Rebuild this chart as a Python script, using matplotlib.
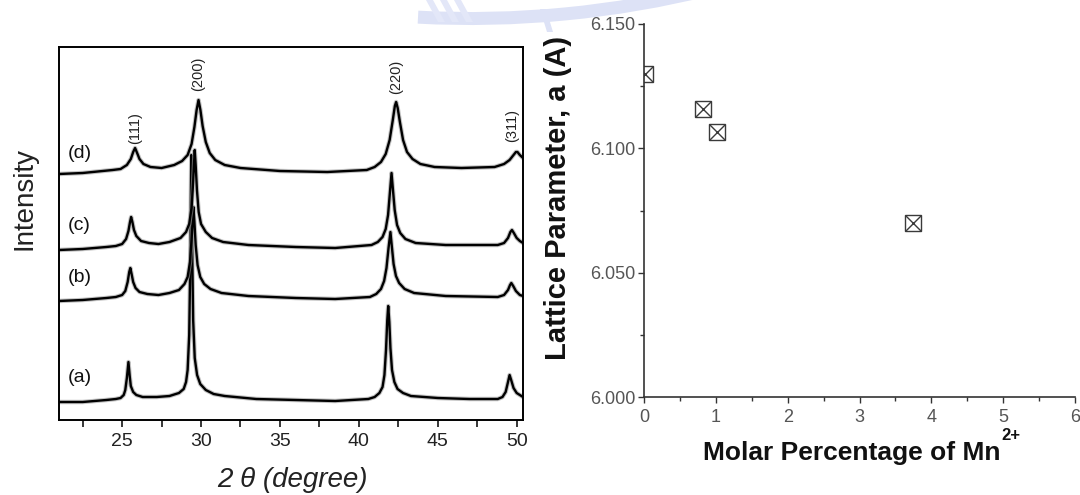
import matplotlib
matplotlib.use("Agg")
import matplotlib.pyplot as plt
from matplotlib.ticker import MultipleLocator
from matplotlib.patches import Wedge, Polygon
from matplotlib.transforms import IdentityTransform

plt.rcParams['font.family'] = ['Liberation Sans', 'DejaVu Sans']

# XRD patterns (2theta in degree, stacked intensity in a.u.)
tt_a = [21.0, 22.5, 24.0, 24.6, 24.9, 25.1, 25.2, 25.3, 25.4, 25.48, 25.55, 25.7, 25.9, 26.3,
        27.2, 28.0, 28.6, 28.9, 29.05, 29.15, 29.25, 29.32, 29.38, 29.44, 29.5, 29.6, 29.75,
        29.95, 30.3, 30.8, 31.5, 33.5, 36.0, 38.5, 40.6, 41.0, 41.3, 41.5, 41.62, 41.72, 41.8,
        41.86, 41.93, 42.0, 42.1, 42.25, 42.45, 42.8, 43.3, 45.0, 47.0, 48.8, 49.1, 49.3, 49.45,
        49.55, 49.65, 49.8, 50.0, 50.4]
int_a = [18, 18, 20, 21, 22, 25, 30, 42, 58, 44, 34, 28, 25, 23,
         23, 24, 27, 31, 38, 50, 85, 160, 265, 170, 100, 62, 45,
         36, 30, 26, 24, 21, 20, 19, 21, 23, 27, 33, 45, 70, 100,
         114, 98, 72, 50, 38, 31, 27, 24, 22, 21, 21, 23, 28, 38,
         45, 40, 32, 27, 23]

tt_b = [21.0, 22.5, 24.0, 24.6, 25.0, 25.2, 25.35, 25.45, 25.52, 25.6, 25.7, 25.85, 26.1, 26.6,
        27.3, 28.0, 28.6, 28.95, 29.15, 29.3, 29.4, 29.47, 29.52, 29.58, 29.66, 29.78, 29.95,
        30.2, 30.6, 31.3, 33.0, 36.0, 38.5, 40.7, 41.1, 41.4, 41.6, 41.75, 41.88, 42.0, 42.08,
        42.2, 42.35, 42.55, 42.9, 43.5, 45.5, 48.8, 49.2, 49.45, 49.58, 49.66, 49.78, 49.95,
        50.2, 50.4]
int_b = [119, 120, 122, 123, 125, 129, 138, 148, 152, 146, 138, 132, 128, 126,
         125, 127, 130, 136, 143, 158, 180, 200, 213, 198, 175, 155, 143,
         136, 131, 127, 124, 122, 121, 123, 126, 131, 139, 152, 172, 188, 175,
         156, 144, 137, 131, 127, 124, 123, 125, 130, 135, 137, 134, 129,
         125, 124]

tt_c = [21.0, 22.5, 24.0, 24.6, 25.0, 25.25, 25.4, 25.5, 25.57, 25.65, 25.75, 25.9, 26.2, 26.7,
        27.3, 28.0, 28.7, 29.05, 29.25, 29.4, 29.5, 29.56, 29.6, 29.66, 29.74, 29.85, 30.0,
        30.3, 30.7, 31.4, 33.0, 36.0, 38.5, 40.8, 41.2, 41.5, 41.7, 41.85, 41.97, 42.07, 42.15,
        42.27, 42.42, 42.62, 42.95, 43.6, 45.5, 48.8, 49.2, 49.45, 49.6, 49.7, 49.82, 50.0,
        50.2, 50.4]
int_c = [170, 171, 173, 174, 176, 181, 189, 198, 203, 198, 190, 184, 179, 177,
         176, 178, 182, 188, 196, 212, 238, 258, 270, 255, 230, 208, 196,
         188, 182, 178, 175, 173, 172, 175, 178, 183, 191, 205, 228, 247, 232,
         210, 195, 187, 181, 177, 175, 175, 177, 182, 188, 190, 187, 182,
         179, 177]

tt_d = [21.0, 22.5, 24.4, 24.9, 25.3, 25.55, 25.7, 25.82, 25.95, 26.1, 26.35, 26.8, 27.5, 28.3,
        28.8, 29.15, 29.4, 29.58, 29.72, 29.84, 29.96, 30.1, 30.3, 30.55, 30.9, 31.5, 32.5,
        35.0, 38.0, 40.5, 41.0, 41.4, 41.7, 41.95, 42.15, 42.28, 42.36, 42.46, 42.6, 42.8,
        43.05, 43.4, 43.9, 44.8, 46.5, 48.6, 49.2, 49.55, 49.8, 49.95, 50.05, 50.2, 50.4]
int_d = [246, 247, 250, 251, 255, 261, 268, 272, 267, 261, 256, 253, 252, 255,
         259, 265, 276, 293, 310, 320, 310, 294, 278, 267, 260, 255, 252,
         249, 248, 250, 253, 258, 266, 280, 300, 314, 318, 312, 298, 280,
         268, 261, 256, 253, 252, 253, 256, 260, 265, 268, 268, 265, 262]

sample_names = ['(a)', '(b)', '(c)', '(d)']
sample_label_y = [43, 143, 195, 267]

hkl_names = ['(111)', '(200)', '(220)', '(311)']
hkl_pos = [25.82, 29.84, 42.36, 49.72]
hkl_y = [276, 329, 326, 278]

# lattice parameter vs Mn2+ content
mn_percent = [0.02, 0.82, 1.02, 3.75]
lattice_a = [6.1297, 6.1158, 6.1067, 6.0698]

fig = plt.figure(figsize=(10.8, 4.95), dpi=100)

# pale emblem in the page background (pixel coordinates, origin bottom-left)
px = IdentityTransform()
emblem = '#dde2f6'
fig.patches.append(Wedge((470, 1470), 1000, 267, 284, width=13, facecolor=emblem,
                         edgecolor='none', transform=px, zorder=-2))
for x0 in [426, 440, 454]:
    fig.patches.append(Polygon([(x0, 495), (x0 + 7, 495), (x0 + 19, 473), (x0 + 12, 473)],
                               closed=True, facecolor='#e3e7f8', edgecolor='none',
                               transform=px, zorder=-2))
fig.patches.append(Polygon([(540, 486), (546, 486), (553, 463), (547, 463)], closed=True,
                           facecolor=emblem, edgecolor='none', transform=px, zorder=-2))

# ---- XRD panel ----
ax1 = fig.add_axes([59 / 1080, 75 / 495, 464 / 1080, 373 / 495])
ax1.patch.set_alpha(0)
for tt, inten in [(tt_a, int_a), (tt_b, int_b), (tt_c, int_c), (tt_d, int_d)]:
    ax1.plot(tt, inten, color='#9a9a9a', lw=3.2, alpha=0.6, solid_joinstyle='round')
    ax1.plot(tt, inten, color='black', lw=1.7, solid_joinstyle='round')

for name, yy in zip(sample_names, sample_label_y):
    ax1.text(22.3, yy, name, fontsize=14, ha='center', va='center', color='#111111')
for name, xx, yy in zip(hkl_names, hkl_pos, hkl_y):
    ax1.text(xx, yy, name, fontsize=10.5, rotation=90, ha='center', va='bottom', color='#222222')

ax1.set_xlim(21, 50.4)
ax1.set_ylim(0, 373)
ax1.set_yticks([])
ax1.xaxis.set_major_locator(MultipleLocator(5))
ax1.xaxis.set_minor_locator(MultipleLocator(2.5))
ax1.tick_params(axis='x', which='both', direction='out', length=5, width=1.1,
                labelsize=14, pad=4, labelcolor='#222222')
for sp in ax1.spines.values():
    sp.set_linewidth(1.4)

fig.text(24 / 1080, 1 - 198 / 495, 'Intensity', rotation=90, fontsize=20,
         ha='center', va='center', color='#222222')
fig.text(292 / 1080, 1 - 480 / 495, '2 θ (degree)', fontsize=20, style='italic',
         ha='center', va='center', color='#222222')

# ---- lattice parameter panel ----
ax2 = fig.add_axes([644 / 1080, 98 / 495, 431 / 1080, 373 / 495])
ax2.patch.set_alpha(0)
ax2.plot(mn_percent, lattice_a, ls='none', marker='s', ms=11, mfc='none',
         mec='#3a3a3a', mew=1.0)
ax2.plot(mn_percent, lattice_a, ls='none', marker='x', ms=11,
         mec='#3a3a3a', mew=1.0)

ax2.set_xlim(0, 6)
ax2.set_ylim(6.0, 6.15)
ax2.set_yticks([6.0, 6.05, 6.1, 6.15])
ax2.set_yticklabels(['6.000', '6.050', '6.100', '6.150'])
ax2.xaxis.set_major_locator(MultipleLocator(1))
ax2.xaxis.set_minor_locator(MultipleLocator(0.5))
ax2.yaxis.set_minor_locator(MultipleLocator(0.025))
ax2.spines['top'].set_visible(False)
ax2.spines['right'].set_visible(False)
for side in ['left', 'bottom']:
    ax2.spines[side].set_linewidth(1.2)
    ax2.spines[side].set_color('#333333')
ax2.tick_params(which='major', direction='out', length=4, width=1.0, color='#333333',
                labelsize=13, labelcolor='#555555')
ax2.tick_params(axis='x', which='major', pad=5)
ax2.tick_params(axis='y', which='major', pad=2)
ax2.tick_params(which='minor', direction='out', length=3, width=1.0, color='#333333')

fig.text(558 / 1080, 1 - 198 / 495, 'Lattice Parameter, a (A)', rotation=90,
         fontsize=21, fontweight='bold', ha='center', va='center', color='#111111')
fig.text(852 / 1080, 1 - 453 / 495, 'Molar Percentage of Mn',
         fontsize=19, fontweight='bold', ha='center', va='center', color='#111111')
fig.text(1001 / 1080, 1 - 435 / 495, '2+',
         fontsize=12, fontweight='bold', ha='left', va='center', color='#111111')

fig.savefig('out.png', dpi=100)
